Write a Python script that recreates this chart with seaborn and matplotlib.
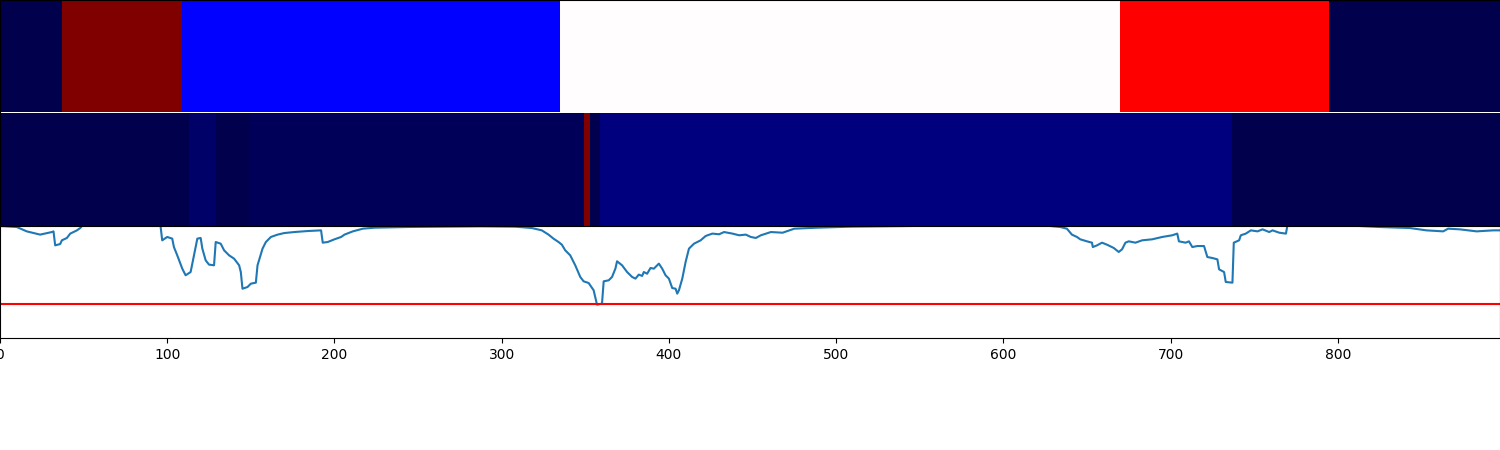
import numpy as np
import matplotlib
matplotlib.use("Agg")
import matplotlib.pyplot as plt
import seaborn as sns

# ---- data ----
n_points = 897

# top strip: segment edges (index) and label per segment
top_edges = [0, 37, 109, 335, 670, 795, 897]
top_labels = [0, 4, 1, 2, 3, 0]

# middle strip: segment edges and value per segment
mid_edges = [0, 113, 129, 149, 349, 353, 359, 737, 897]
mid_values = [0.0, 0.04, 0.003, 0.018, 1.0, 0.006, 0.072, 0.002]

# score curve (vertices) and threshold
score_x = [0, 10, 16, 24, 31, 32, 33, 36, 37, 40, 42, 46, 48, 49,
           60, 72, 85, 96, 97, 100, 103, 104, 106, 109, 111, 114, 116, 118,
           120, 121, 123, 125, 128, 129, 132, 134, 137, 140, 143, 144, 145,
           148, 150, 153, 154, 157, 159, 162, 166, 170, 176, 184, 192, 193,
           196, 200, 204, 206, 211, 217, 224, 244, 264, 288, 308, 318, 324,
           328, 331, 334, 336, 338, 341, 344, 347, 349, 352, 355, 357, 360,
           361, 364, 366, 368, 369, 372, 375, 378, 380, 382, 384, 385, 387,
           389, 391, 394, 396, 398, 400, 402, 404, 405, 406, 408, 410, 412,
           415, 419, 422, 426, 430, 433, 438, 442, 446, 449, 452, 455, 461,
           468, 475, 489, 509, 529, 545, 565, 590, 610, 628, 634, 638, 641,
           644, 646, 650, 653, 653.5, 656, 659, 662, 666, 669, 671, 673, 675,
           679, 683, 689, 695, 701, 704, 705, 709, 711, 713, 716, 720, 722,
           725, 728, 729, 732, 733, 737, 737.8, 741, 742, 745, 748, 752, 755,
           759, 761, 765, 769, 769.8, 790, 813, 825, 843, 853, 863, 866, 873,
           883, 893, 897]
score_y = [1.0, 0.991, 0.952, 0.923, 0.946, 0.952, 0.827, 0.839, 0.872,
           0.893, 0.932, 0.961, 0.982, 1.0, 1.04, 1.07, 1.05, 1.0, 0.872,
           0.902, 0.887, 0.812, 0.738, 0.619, 0.560, 0.589, 0.738, 0.887,
           0.893, 0.798, 0.693, 0.655, 0.649, 0.857, 0.842, 0.783, 0.738,
           0.708, 0.649, 0.589, 0.440, 0.455, 0.485, 0.494, 0.649, 0.798,
           0.857, 0.902, 0.923, 0.937, 0.946, 0.955, 0.961, 0.851, 0.857,
           0.881, 0.902, 0.923, 0.952, 0.976, 0.985, 0.991, 0.994, 0.997,
           0.994, 0.982, 0.961, 0.923, 0.887, 0.857, 0.833, 0.783, 0.738,
           0.649, 0.545, 0.506, 0.491, 0.426, 0.298, 0.307, 0.506, 0.515,
           0.545, 0.619, 0.685, 0.649, 0.589, 0.545, 0.530, 0.566, 0.554,
           0.589, 0.574, 0.625, 0.619, 0.664, 0.619, 0.560, 0.530, 0.446,
           0.440, 0.396, 0.426, 0.530, 0.679, 0.798, 0.842, 0.872, 0.911,
           0.932, 0.926, 0.946, 0.932, 0.917, 0.923, 0.902, 0.893, 0.917,
           0.946, 0.940, 0.976, 0.985, 0.994, 0.997, 1.0, 1.03, 1.06, 1.04,
           1.0, 0.991, 0.976, 0.923, 0.902, 0.881, 0.863, 0.851, 0.812,
           0.827, 0.851, 0.833, 0.804, 0.768, 0.792, 0.851, 0.863, 0.851,
           0.872, 0.881, 0.902, 0.917, 0.932, 0.863, 0.851, 0.863, 0.812,
           0.821, 0.821, 0.723, 0.714, 0.702, 0.613, 0.589, 0.500, 0.494,
           0.851, 0.872, 0.917, 0.932, 0.961, 0.952, 0.970, 0.946, 0.961,
           0.940, 0.932, 1.0, 1.03, 1.0, 0.991, 0.982, 0.961, 0.952, 0.976,
           0.970, 0.952, 0.961, 0.961]
threshold = 0.306

# ---- build strips ----
top_row = np.repeat(top_labels, np.diff(top_edges))[None, :]
mid_row = np.repeat(mid_values, np.diff(mid_edges))[None, :]

fig = plt.figure(figsize=(15, 4.5), dpi=100)
ax_top = fig.add_axes([0, 0.7522, 1, 0.2478])
ax_mid = fig.add_axes([0, 0.4978, 1, 0.2511])
ax_line = fig.add_axes([0, 0.2489, 1, 0.2489])

sns.heatmap(top_row, ax=ax_top, cmap="seismic", vmin=0, vmax=4,
            cbar=False, xticklabels=False, yticklabels=False)
sns.heatmap(mid_row, ax=ax_mid, cmap="seismic", vmin=0, vmax=1,
            cbar=False, xticklabels=False, yticklabels=False)

for ax in (ax_top, ax_mid):
    ax.set_xlim(0, n_points)
    ax.tick_params(left=False, bottom=False)
for s in ("top", "left"):
    ax_top.spines[s].set_visible(True)
ax_mid.spines["left"].set_visible(True)

sns.lineplot(x=score_x, y=score_y, ax=ax_line, color="#1f77b4",
             linewidth=1.5, estimator=None, sort=False)
ax_line.axhline(threshold, color="red", linewidth=1.5)
ax_line.set_xlim(0, n_points)
ax_line.set_ylim(0, 1)
ax_line.set_xticks(range(0, 900, 100))
# y ticks sit left of the canvas in the reference, so none show
ax_line.tick_params(axis="y", left=False, labelleft=False)

fig.savefig("out.png", dpi=100)
